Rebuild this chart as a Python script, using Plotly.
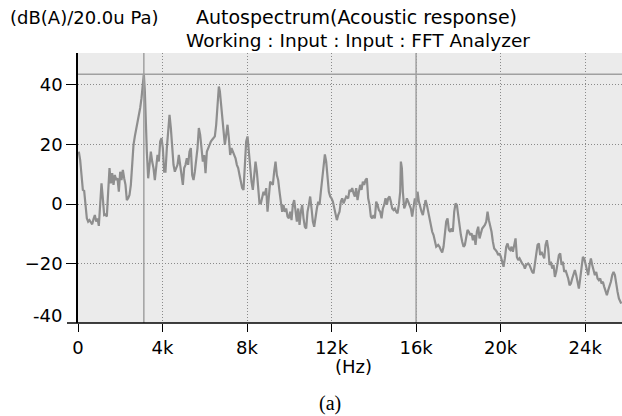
import plotly.graph_objects as go

# ---- data: autospectrum, frequency in Hz, level in dB(A) re 20 uPa ----
freq_a = [39, 103, 166, 229, 292, 355, 418, 481, 544, 607, 671, 734, 797, 860, 923, 986,
          1049, 1112, 1175, 1239, 1302, 1365, 1428, 1491, 1554, 1617, 1680, 1743, 1806, 1870,
          1933, 1996, 2059, 2122, 2185, 2248, 2311, 2374, 2437, 2501, 2564, 2627, 2690, 2753,
          2816, 2879, 2942, 3005, 3068, 3116, 3163, 3210, 3258, 3321, 3384, 3447, 3510, 3573,
          3636, 3700, 3763, 3826, 3889, 3952, 4015, 4078]
level_a = [17.5, 14.7, 9.7, 4.7, 4.4, -0.3, -4.8, -5.9, -5.4, -6.1, -6.8, -5.0, -3.7, -5.9, -4.8, -7.3,
           0.8, 6.9, 1.9, -3.7, -3.5, -4.2, 4.1, 12.0, 6.9, 10.3, 6.4, 9.7, 8.0, 8.6,
           4.1, 10.8, 8.0, 11.4, 8.6, 6.4, 1.3, 1.9, 3.0, 6.4, 13.1, 19.8, 22.6, 24.8,
           27.0, 28.7, 32.1, 35.4, 39.9, 43.5, 37.7, 24.2, 17.5, 8.6, 13.1, 17.5, 14.2, 12.0,
           8.0, 13.1, 16.4, 14.2, 20.9, 22.0, 18.7, 10.8]

freq_b = [4141, 4204, 4268, 4331, 4394, 4457, 4520, 4583, 4646, 4709, 4772, 4836, 4899, 4962,
          5025, 5088, 5151, 5214, 5277, 5340, 5404, 5467, 5530, 5593, 5656, 5719, 5782, 5845,
          5908, 5972, 6035, 6098, 6161, 6224, 6287, 6350, 6413, 6476, 6540, 6603, 6666, 6713,
          6760, 6824, 6887, 6950, 7013, 7076, 7139, 7202, 7265, 7328, 7392, 7455, 7518, 7581,
          7644, 7707, 7770, 7833, 7896, 7959, 8022, 8085, 8148, 8212, 8275, 8338, 8401]
level_b = [10.8, 18.7, 24.2, 29.8, 25.4, 17.5, 13.1, 10.8, 12.0, 13.1, 16.4, 13.1, 8.6, 6.4,
           12.0, 13.1, 15.3, 13.1, 17.5, 18.7, 9.7, 8.0, 10.8, 14.2, 18.7, 25.4, 23.1, 18.7,
           14.2, 16.4, 10.3, 17.5, 18.7, 19.8, 20.9, 21.5, 22.0, 22.6, 26.5, 34.3, 39.3, 37.7,
           34.3, 29.8, 25.4, 19.8, 23.1, 26.5, 22.0, 16.4, 18.7, 17.5, 16.4, 15.3, 13.1, 12.0,
           9.7, 7.5, 5.3, 4.7, 13.1, 20.9, 22.6, 17.5, 12.0, 7.5, 4.7, 9.7, 14.2]

freq_c = [8464, 8527, 8590, 8653, 8716, 8780, 8843, 8906, 8969, 9032, 9095, 9158, 9221, 9284,
          9348, 9411, 9474, 9537, 9600, 9663, 9726, 9789, 9852, 9916, 9979, 10042, 10105, 10168,
          10231, 10294, 10357, 10420, 10484, 10547, 10610, 10673, 10736, 10799, 10862, 10925,
          10988, 11052, 11115, 11178, 11241, 11304, 11367, 11430, 11493, 11556, 11620, 11683,
          11746, 11809, 11872, 11935, 11998, 12061, 12124, 12188, 12251, 12314, 12377, 12440,
          12503, 12566, 12629, 12692]
level_c = [10.8, 4.1, 0.2, 0.2, 1.9, 4.1, 3.0, 5.3, -2.6, 4.1, 7.5, 6.9, 6.4, 10.8,
           14.2, 9.7, 8.0, 4.1, 0.8, -2.6, -0.3, -2.6, -1.5, -4.2, -4.8, -2.6, -5.4, -0.3,
           1.3, -3.7, -5.9, -1.5, -7.0, -2.6, -0.3, -4.8, -7.6, -8.2, -2.6, -0.3,
           2.5, -1.5, -5.9, -7.6, -3.7, -1.5, 0.8, -0.3, 4.1, 8.6, 13.1, 16.6,
           14.2, 8.6, 4.1, 2.5, 1.9, 0.8, -1.5, -3.7, -5.4, -3.7, -2.6, 0.8,
           1.9, 0.2, 1.3, 2.5]

freq_d = [12787, 12850, 12913, 12976, 13039, 13102, 13165, 13229, 13292, 13355, 13418, 13481,
          13544, 13607, 13670, 13733, 13797, 13860, 13923, 13986, 14049, 14112, 14175, 14238,
          14301, 14365, 14428, 14491, 14554, 14617, 14680, 14743, 14806, 14869, 14933, 14996,
          15059, 15122, 15185, 15248, 15280, 15327, 15374, 15437, 15501, 15564, 15627, 15690,
          15753, 15816, 15879, 15942, 16005, 16069, 16132, 16195, 16258, 16321, 16384, 16447,
          16510, 16573, 16637, 16700, 16763, 16826, 16889, 16952]
level_d = [1.9, 4.7, 4.1, 5.3, 3.6, 2.5, 5.3, 1.3, 4.1, 6.4, 4.7, 7.5,
           6.4, 8.0, 8.6, 1.9, -0.3, -4.2, -4.8, -3.7, -4.8, 0.8, -0.3, -2.0,
           -2.6, -4.8, -1.5, -0.3, 1.9, -0.3, 1.9, 2.5, 0.8, -1.5, -2.0, -1.5,
           -2.6, -3.1, -0.3, 4.1, 14.2, 12.0, 4.1, -1.5, -0.3, 1.9, 0.8, -0.3,
           -1.5, -4.2, -1.5, 1.9, -0.3, 4.1, 0.8, -1.5, -2.6, -3.7, -0.3, 1.3,
           -0.3, -2.6, -4.8, -7.0, -9.3, -10.4, -12.6, -14.3]

freq_e = [17047, 17110, 17173, 17236, 17299, 17362, 17425, 17489, 17552, 17615, 17678, 17741,
          17804, 17867, 17930, 17993, 18057, 18120, 18183, 18246, 18309, 18372, 18435, 18498,
          18561, 18625, 18688, 18751, 18814, 18877, 18940, 19003, 19066, 19129, 19193, 19256,
          19319, 19382, 19445, 19508, 19571, 19634, 19697, 19761, 19824, 19887, 19950, 20013,
          20076, 20139, 20202, 20265, 20329, 20392, 20455, 20518, 20581, 20644, 20707, 20770,
          20833, 20897, 20960, 21023, 21086, 21149, 21212]
level_e = [-13.7, -14.3, -15.4, -16.2, -14.3, -10.4, -5.9, -4.8, -8.7, -9.3, -8.2, -9.3,
           -2.6, 0.2, -0.3, -3.7, -8.2, -10.4, -12.6, -14.3, -13.7, -10.4, -8.7, -9.3,
           -10.4, -9.8, -12.1, -10.4, -13.7, -9.3, -7.6, -11.5, -9.8, -8.2, -7.6, -7.0,
           -5.9, -2.6, -5.4, -7.0, -9.3, -12.6, -14.9, -15.4, -16.0, -17.1, -16.5, -17.7,
           -19.3, -21.0, -18.2, -14.3, -13.2, -14.9, -15.4, -14.3, -16.0, -13.7, -11.5, -17.7,
           -18.8, -18.2, -19.3, -19.9, -20.4, -21.6, -20.4]

freq_f = [21306, 21369, 21433, 21496, 21559, 21622, 21685, 21748, 21811, 21874, 21937, 22001,
          22064, 22127, 22190, 22253, 22316, 22379, 22442, 22505, 22569, 22632, 22695, 22758,
          22821, 22884, 22947, 23010, 23073, 23137, 23200, 23263, 23326, 23389, 23452, 23515,
          23578, 23641, 23705, 23768, 23831, 23894, 23957, 24020, 24083, 24146, 24209, 24273,
          24336, 24399, 24462, 24525, 24588, 24651, 24714, 24777, 24841, 24904, 24967, 25030,
          25093, 25156, 25219, 25282, 25345, 25409, 25472, 25535, 25598, 25661, 25708]
level_f = [-19.9, -20.4, -21.6, -22.7, -23.2, -20.4, -16.0, -13.7, -13.2, -17.1, -16.0, -17.1,
           -18.2, -13.7, -12.1, -14.9, -20.4, -19.3, -21.6, -20.4, -24.4, -22.7, -19.9, -17.1,
           -16.5, -20.4, -19.3, -22.7, -22.1, -23.2, -24.9, -27.2, -26.6, -24.9, -23.2, -22.1,
           -23.8, -26.0, -28.3, -24.9, -20.4, -17.7, -18.2, -19.9, -21.6, -23.8, -20.4, -18.2,
           -20.4, -22.7, -23.8, -22.7, -24.9, -25.5, -24.9, -26.6, -26.0, -27.7, -29.4, -30.5,
           -28.8, -27.7, -26.0, -23.8, -22.7, -23.8, -27.2, -29.4, -31.6, -32.7, -33.3]

x_tick_vals = [0, 4000, 8000, 12000, 16000, 20000, 24000]
x_tick_text = ["0", "4k", "8k", "12k", "16k", "20k", "24k"]
y_tick_vals = [40, 20, 0, -20]
cursor_freq = 3116      # vertical cursor (peak)
cursor_level = 43.4     # horizontal cursor (peak level)
marker_freq = 16000     # second vertical cursor

freq = freq_a + freq_b + freq_c + freq_d + freq_e + freq_f
level = level_a + level_b + level_c + level_d + level_e + level_f

FONT = "DejaVu Sans"
L, R, T, B = 78, 0, 53, 93
W, H = 622, 416
pw, ph = W - L - R, H - T - B

def px(xp):
    return (xp - L) / pw

def py(yp):
    return (H - B - yp) / ph

fig = go.Figure()
fig.add_trace(go.Scatter(x=freq, y=level, mode="lines",
                         line=dict(color="#8e8e8e", width=2.2), hoverinfo="skip"))

grid_col = "#8a8a8a"
cur_col = "#a0a0a0"
fig.add_shape(type="line", xref="paper", yref="y", x0=0, x1=1, y0=cursor_level, y1=cursor_level,
              line=dict(color=cur_col, width=1.6))
fig.add_shape(type="line", xref="x", yref="paper", x0=cursor_freq, x1=cursor_freq, y0=0, y1=1,
              line=dict(color=cur_col, width=1.5))
fig.add_shape(type="line", xref="x", yref="paper", x0=marker_freq, x1=marker_freq, y0=0, y1=1,
              line=dict(color=cur_col, width=1.5))
# bottom axis line extended to the left (acts as -40 tick)
fig.add_shape(type="line", xref="paper", yref="paper", x0=px(67), x1=1, y0=0, y1=0,
              line=dict(color="black", width=1.5))

anns = [
    dict(text="(dB(A)/20.0u Pa)", x=px(8), y=py(17), xanchor="left", yanchor="middle", size=18),
    dict(text="Autospectrum(Acoustic response)", x=px(356), y=py(17), xanchor="center", yanchor="middle", size=19),
    dict(text="Working : Input : Input : FFT Analyzer", x=px(358), y=py(40), xanchor="center", yanchor="middle", size=18.5),
    dict(text="(Hz)", x=px(353), y=py(366), xanchor="center", yanchor="middle", size=18),
    dict(text="-40", x=px(64), y=py(315), xanchor="right", yanchor="middle", size=18),
]
for a in anns:
    fig.add_annotation(text=a["text"], x=a["x"], y=a["y"], xref="paper", yref="paper",
                       xanchor=a["xanchor"], yanchor=a["yanchor"], showarrow=False,
                       font=dict(family=FONT, size=a["size"], color="black"))
fig.add_annotation(text="(a)", x=px(330), y=py(403), xref="paper", yref="paper",
                   xanchor="center", yanchor="middle", showarrow=False,
                   font=dict(family="Liberation Serif", size=20, color="black"))

fig.update_layout(
    width=W, height=H,
    margin=dict(l=L, r=R, t=T, b=B, pad=0),
    paper_bgcolor="white",
    plot_bgcolor="#ebebeb",
    showlegend=False,
    font=dict(family=FONT, size=18, color="black"),
    xaxis=dict(range=[0, 25745], tickvals=x_tick_vals, ticktext=x_tick_text,
               showgrid=True, gridcolor=grid_col, griddash="1px,2px", gridwidth=1,
               showline=False, ticks="outside", ticklen=8, tickwidth=1.2, tickcolor="black",
               zeroline=False, tickfont=dict(family=FONT, size=18)),
    yaxis=dict(range=[-39.8, 50.5], tickvals=y_tick_vals,
               showgrid=True, gridcolor=grid_col, griddash="1px,2px", gridwidth=1,
               showline=True, linecolor="black", linewidth=1.5,
               ticks="outside", ticklen=10, tickwidth=1.2, tickcolor="black",
               zeroline=False, tickfont=dict(family=FONT, size=18)),
)

fig.write_html("out.html")
